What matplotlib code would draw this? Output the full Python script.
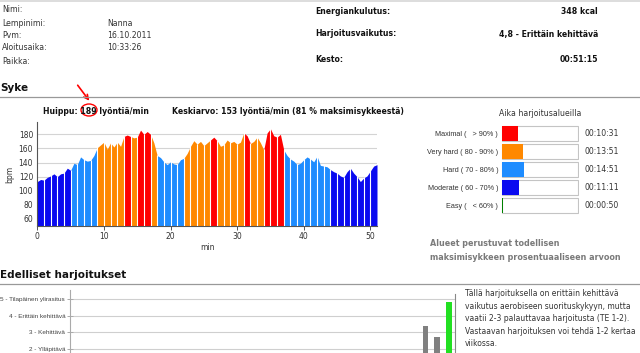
import matplotlib
matplotlib.use("Agg")
import matplotlib.pyplot as plt
from matplotlib.patches import Ellipse, FancyArrowPatch, Rectangle
from matplotlib.lines import Line2D

W, H = 640, 353

# heart rate (bpm), one reading every half minute
hr_step = 0.5
hr = [113, 116, 115, 119, 121, 124, 120, 124, 125, 132,
      129, 139, 137, 148, 144, 142, 143, 150, 161, 165,
      169, 159, 168, 162, 169, 163, 177, 179, 177, 175,
      176, 186, 180, 184, 180, 168, 150, 147, 141, 137,
      141, 138, 137, 144, 146, 153, 163, 171, 166, 170,
      164, 168, 172, 176, 171, 163, 165, 172, 168, 170,
      166, 169, 182, 178, 167, 170, 176, 168, 158, 182,
      188, 178, 176, 180, 158, 150, 145, 142, 137, 139,
      144, 148, 145, 141, 149, 136, 135, 134, 130, 127,
      125, 121, 119, 127, 132, 125, 120, 113, 118, 121,
      128, 135, 137]

# zone of every one-minute stripe: X maximal, V very hard, H hard, M moderate
stripe_zone = (["M"] * 5 + ["H"] * 4 + ["V"] * 4 + ["X"] + ["V"] + ["X"] * 2 + ["V"]
               + ["H"] * 4 + ["V"] * 4 + ["X"] + ["V"] * 4 + ["X"] + ["V"] * 2
               + ["X"] * 3 + ["H"] * 7 + ["M"] * 7)
zone_color = {"X": "#ff0000", "V": "#ff8800", "H": "#1e8cff", "M": "#0a0af0", "E": "#008000"}

zone_labels = ["Maximal (   > 90% )", "Very hard ( 80 - 90% )", "Hard ( 70 - 80% )",
               "Moderate ( 60 - 70% )", "Easy (   < 60% )"]
zone_keys = ["X", "V", "H", "M", "E"]
zone_times = ["00:10:31", "00:13:51", "00:14:51", "00:11:11", "00:00:50"]
zone_seconds = [631, 831, 891, 671, 50]
duration_s = 3075

te_levels = [2, 3, 4, 5]
te_labels = ["2 - Ylläpitävä", "3 - Kehittävä", "4 - Erittäin kehittävä", "5 - Tilapäinen ylirasitus"]
prev_index = [30, 31, 32]
prev_te = [3.4, 2.7, 4.8]
prev_color = ["#808080", "#808080", "#22e022"]

header_left = [("Nimi:", ""), ("Lempinimi:", "Nanna"), ("Pvm:", "16.10.2011"),
               ("Aloitusaika:", "10:33:26"), ("Paikka:", "")]
header_right = [("Energiankulutus:", "348 kcal"),
                ("Harjoitusvaikutus:", "4,8 - Erittäin kehittävä"),
                ("Kesto:", "00:51:15")]
te_text = ["Tällä harjoituksella on erittäin kehittävä",
           "vaikutus aerobiseen suorituskykyyn, mutta",
           "vaatii 2-3 palauttavaa harjoitusta (TE 1-2).",
           "Vastaavan harjoituksen voi tehdä 1-2 kertaa",
           "viikossa."]

NARROW = ["Liberation Sans Narrow", "Liberation Sans", "DejaVu Sans"]
TXT = "#333333"

fig = plt.figure(figsize=(W / 100, H / 100), dpi=100)
fig.patch.set_facecolor("white")


def px_axes(x0, y0, x1, y1):
    return fig.add_axes([x0 / W, 1 - y1 / H, (x1 - x0) / W, (y1 - y0) / H])


def label(x, y, s, **kw):
    kw.setdefault("va", "center")
    kw.setdefault("color", TXT)
    fig.text(x / W, 1 - y / H, s, **kw)


def hline(y, x0=0, x1=W, color="#999999", lw=0.9):
    fig.add_artist(Line2D([x0 / W, x1 / W], [1 - y / H] * 2, color=color, lw=lw))


# top band
fig.add_artist(Rectangle((0, 1 - 2 / H), 1, 2 / H, transform=fig.transFigure,
                         color="#dddddd", lw=0))

# header
for i, (k, v) in enumerate(header_left):
    y = [10, 23, 36, 48, 61][i]
    label(2, y, k, fontsize=5.6)
    label(107, y, v, fontsize=5.6)
for i, (k, v) in enumerate(header_right):
    y = [11, 34, 60][i]
    label(315, y, k, fontsize=5.6, fontweight="bold", color="#111")
    label(598, y, v, fontsize=5.6, fontweight="bold", color="#111", ha="right")

# Syke section
label(0, 88, "Syke", fontsize=7.5, fontweight="bold", color="#111")
hline(97)
label(43, 111, "Huippu: 189 lyöntiä/min", fontsize=5.6, fontweight="bold", color="#111")
label(172, 111, "Keskiarvo: 153 lyöntiä/min (81 % maksimisykkeestä)", fontsize=5.6,
      fontweight="bold", color="#111")
fig.add_artist(Ellipse((89 / W, 1 - 110 / H), 16 / W, 12 / H, transform=fig.transFigure,
                       fill=False, edgecolor="red", lw=1.0))
fig.add_artist(FancyArrowPatch((76 / W, 1 - 83 / H), (91 / W, 1 - 103 / H),
                               transform=fig.transFigure, arrowstyle="->",
                               mutation_scale=8, color="red", lw=1.2))

# heart rate chart
ax = px_axes(37.3, 122, 377, 226)
t = [i * hr_step for i in range(len(hr))]
per_min = int(round(1 / hr_step))
for k, z in enumerate(stripe_zone):
    a, b = k * per_min, (k + 1) * per_min + 1
    ax.fill_between(t[a:b], 50, hr[a:b], color=zone_color[z], lw=0, zorder=2)
    if k > 0:
        ax.vlines(t[a], 50, hr[a] + 1, color="white", lw=0.8, zorder=3)
ax.set_xlim(0, 51.0)
ax.set_ylim(50, 197.5)
ax.set_yticks(range(60, 181, 20))
ax.set_xticks(range(0, 51, 10))
ax.yaxis.grid(True, color="#d4d4d4", lw=0.8)
ax.set_axisbelow(True)
for s in ["top", "right"]:
    ax.spines[s].set_visible(False)
for s in ["left", "bottom"]:
    ax.spines[s].set_color("#555555")
    ax.spines[s].set_linewidth(0.8)
ax.tick_params(axis="y", length=0, labelsize=5.5, labelcolor=TXT, pad=3)
ax.tick_params(axis="x", length=3, width=0.7, color="#555555", labelsize=5.5,
               labelcolor=TXT, pad=1.5)
ax.set_ylabel("bpm", fontsize=5.5, color=TXT, labelpad=3)
ax.set_xlabel("min", fontsize=5.5, color=TXT, labelpad=1)

# time in zones
label(540, 113, "Aika harjoitusalueilla", fontsize=5.6, ha="center")
az = px_axes(501, 124.5, 579, 214.5)
rows = list(range(len(zone_labels)))
az.barh(rows, [duration_s] * len(rows), height=0.83, color="white",
        edgecolor="#c4c4c4", lw=0.8)
az.barh(rows, zone_seconds, height=0.83, color=[zone_color[k] for k in zone_keys], lw=0)
az.set_xlim(-40, duration_s + 40)
az.set_ylim(4.5, -0.5)
az.set_xticks([])
az.set_yticks(rows)
az.set_yticklabels(zone_labels, fontsize=5.2, family=NARROW, color=TXT)
az.tick_params(axis="y", length=0, pad=2)
for s in az.spines.values():
    s.set_visible(False)
for i, tt in enumerate(zone_times):
    az.text(1.07, i, tt, transform=az.get_yaxis_transform(), fontsize=5.6,
            color=TXT, va="center")

label(430, 243, "Alueet perustuvat todellisen", fontsize=5.8, fontweight="bold", color="#7a7a7a")
label(430, 257, "maksimisykkeen prosentuaaliseen arvoon", fontsize=5.8, fontweight="bold",
      color="#7a7a7a")

# previous workouts
label(0, 275, "Edelliset harjoitukset", fontsize=7.5, fontweight="bold", color="#111")
hline(284)
ab = px_axes(70, 290, 455, 382)
ab.bar(prev_index, prev_te, width=0.5, color=prev_color, zorder=2)
ab.set_xlim(-0.1, 32.5)
ab.set_ylim(0, 5.54)
ab.set_yticks(te_levels)
ab.set_yticklabels(te_labels, fontsize=4.6, family=NARROW, color="#444444")
ab.set_xticks([])
ab.yaxis.grid(True, color="#cfcfcf", lw=0.8)
ab.set_axisbelow(True)
ab.tick_params(axis="y", direction="inout", length=5, width=0.7, color="#aaaaaa", pad=1)
for s in ["top", "bottom"]:
    ab.spines[s].set_visible(False)
ab.spines["left"].set_color("#aaaaaa")
ab.spines["right"].set_color("#888888")
ab.spines["right"].set_bounds(0, 5.3)

for i, line in enumerate(te_text):
    label(465, 294 + i * 12.4, line, fontsize=5.5)

fig.savefig("out.png", dpi=100)
